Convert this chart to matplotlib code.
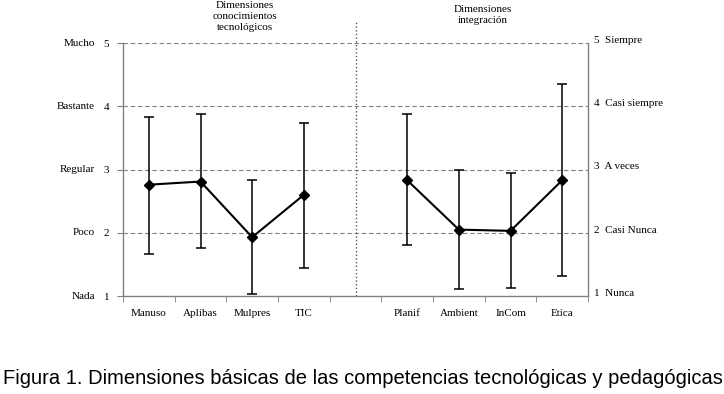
import numpy as np
import matplotlib
matplotlib.use("Agg")
import matplotlib.pyplot as plt

categories = ['Manuso', 'Aplibas', 'Mulpres', 'TIC', '', 'Planif', 'Ambient', 'InCom', 'Etica']
means = [2.76, 2.81, 1.93, 2.60, np.nan, 2.83, 2.05, 2.03, 2.83]
upper = [3.83, 3.87, 2.83, 3.73, np.nan, 3.87, 2.99, 2.94, 4.36]
lower = [1.66, 1.76, 1.03, 1.45, np.nan, 1.81, 1.11, 1.13, 1.31]
left_labels = ['Nada', 'Poco', 'Regular', 'Bastante', 'Mucho']
right_labels = ['Nunca', 'Casi Nunca', 'A veces', 'Casi siempre', 'Siempre']
levels = [1, 2, 3, 4, 5]

serif = 'Liberation Serif'
fig = plt.figure(figsize=(7.24, 3.94), dpi=100)
ax = fig.add_axes([0.1699, 0.2487, 0.6423, 0.6421])

x = np.arange(1, len(categories) + 1)
m = np.array(means)
yerr = np.array([m - np.array(lower), np.array(upper) - m])

for lv in levels[1:]:
    ax.axhline(lv, color='#808080', linestyle='--', linewidth=0.8, dashes=(4, 2.5), zorder=1)

ax.errorbar(x, m, yerr=yerr, fmt='none', ecolor='black', elinewidth=1.1,
            capsize=3.5, capthick=1.1, zorder=3)
ax.plot(x, m, color='black', linewidth=1.5, marker='D', markersize=5.5, zorder=4)

# separator between the two groups
ax.plot([5, 5], [1, 5.33], color='#555555', linestyle=':', linewidth=1.0, clip_on=False)

ax.set_xlim(0.5, len(categories) + 0.5)
ax.set_ylim(1, 5)

ax.set_xticks(x)
ax.set_xticklabels(categories, fontfamily=serif, fontsize=8)
ax.set_xticks(np.arange(0.5, len(categories) + 1), minor=True)
ax.tick_params(axis='x', which='major', length=0, pad=9)
ax.tick_params(axis='x', which='minor', length=4, color='#808080', direction='out')

ax.set_yticks(levels)
ax.set_yticklabels([str(v) for v in levels], fontfamily=serif, fontsize=8)
ax.tick_params(axis='y', length=4, color='#808080', direction='out', pad=6)

for lv, lab in zip(levels, left_labels):
    ax.text(-0.06, lv, lab, transform=ax.get_yaxis_transform(), ha='right', va='center',
            fontfamily=serif, fontsize=8)
for lv, lab in zip(levels, right_labels):
    ax.text(1.012, lv + 0.04, f'{lv}  {lab}', transform=ax.get_yaxis_transform(),
            ha='left', va='center', fontfamily=serif, fontsize=8)

for side in ['left', 'right', 'bottom']:
    ax.spines[side].set_color('#808080')
    ax.spines[side].set_linewidth(1.0)
ax.spines['top'].set_visible(False)

fig.text(245 / 724, 1 - 1 / 394, 'Dimensiones\nconocimientos\ntecnológicos', ha='center', va='top',
         fontfamily=serif, fontsize=8, linespacing=1.25)
fig.text(483 / 724, 1 - 5 / 394, 'Dimensiones\nintegración', ha='center', va='top',
         fontfamily=serif, fontsize=8, linespacing=1.25)

fig.text(3 / 724, 1 - 378 / 394,
         'Figura 1. Dimensiones básicas de las competencias tecnológicas y pedagógicas',
         ha='left', va='center', fontfamily='Liberation Sans', fontsize=14.5)

fig.savefig('out.png', dpi=100)
